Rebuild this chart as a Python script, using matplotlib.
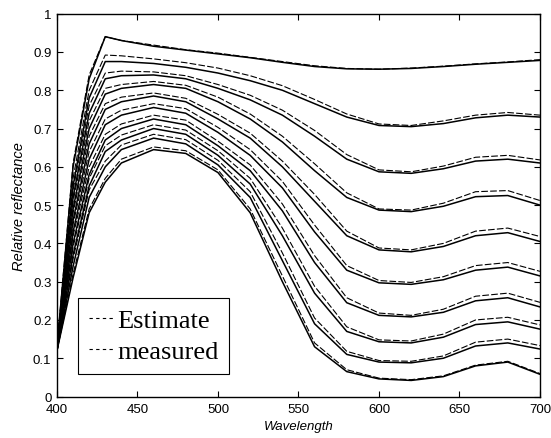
from matplotlib import pyplot as plt
import matplotlib
matplotlib.use('Agg')

# wavelengths (nm)
wl = [400, 410, 420, 430, 440, 460, 480, 500, 520, 540, 560, 580, 600, 620, 640, 660, 680, 700]

# measured reflectance, one list per sample (top to bottom)
meas1 = [0.13, 0.60, 0.83, 0.94, 0.93, 0.915, 0.905, 0.895, 0.885, 0.873, 0.862, 0.856, 0.855, 0.857, 0.862, 0.868, 0.873, 0.878]
meas2 = [0.13, 0.55, 0.78, 0.875, 0.875, 0.87, 0.86, 0.845, 0.825, 0.80, 0.765, 0.73, 0.708, 0.705, 0.713, 0.728, 0.735, 0.73]
meas3 = [0.125, 0.52, 0.74, 0.83, 0.838, 0.84, 0.83, 0.805, 0.775, 0.735, 0.68, 0.62, 0.587, 0.583, 0.595, 0.615, 0.62, 0.61]
meas4 = [0.125, 0.49, 0.70, 0.79, 0.805, 0.815, 0.805, 0.77, 0.725, 0.665, 0.59, 0.52, 0.487, 0.483, 0.497, 0.522, 0.525, 0.50]
meas5 = [0.125, 0.46, 0.66, 0.75, 0.77, 0.785, 0.77, 0.725, 0.675, 0.60, 0.51, 0.42, 0.383, 0.378, 0.392, 0.42, 0.428, 0.405]
meas6 = [0.12, 0.43, 0.62, 0.71, 0.735, 0.755, 0.74, 0.69, 0.63, 0.545, 0.43, 0.33, 0.297, 0.293, 0.305, 0.33, 0.338, 0.315]
meas7 = [0.12, 0.40, 0.58, 0.67, 0.70, 0.725, 0.71, 0.655, 0.59, 0.485, 0.35, 0.245, 0.212, 0.208, 0.22, 0.25, 0.258, 0.234]
meas8 = [0.12, 0.37, 0.55, 0.64, 0.67, 0.70, 0.685, 0.63, 0.555, 0.42, 0.27, 0.17, 0.143, 0.14, 0.155, 0.188, 0.195, 0.176]
meas9 = [0.12, 0.34, 0.52, 0.60, 0.645, 0.675, 0.66, 0.605, 0.52, 0.355, 0.19, 0.11, 0.09, 0.088, 0.10, 0.132, 0.14, 0.124]
meas10 = [0.12, 0.31, 0.48, 0.56, 0.61, 0.645, 0.635, 0.585, 0.48, 0.30, 0.13, 0.065, 0.046, 0.042, 0.052, 0.08, 0.09, 0.058]

# estimated reflectance
est1 = [0.13, 0.61, 0.84, 0.94, 0.93, 0.918, 0.906, 0.897, 0.886, 0.875, 0.864, 0.857, 0.855, 0.858, 0.863, 0.869, 0.874, 0.88]
est2 = [0.13, 0.57, 0.80, 0.892, 0.89, 0.882, 0.872, 0.858, 0.838, 0.812, 0.776, 0.738, 0.712, 0.708, 0.72, 0.735, 0.742, 0.735]
est3 = [0.125, 0.54, 0.76, 0.845, 0.85, 0.848, 0.838, 0.815, 0.787, 0.748, 0.695, 0.632, 0.592, 0.587, 0.602, 0.625, 0.63, 0.618]
est4 = [0.125, 0.51, 0.72, 0.805, 0.815, 0.823, 0.813, 0.782, 0.738, 0.68, 0.608, 0.532, 0.49, 0.487, 0.505, 0.535, 0.538, 0.512]
est5 = [0.125, 0.48, 0.68, 0.765, 0.782, 0.793, 0.779, 0.737, 0.688, 0.615, 0.528, 0.432, 0.388, 0.383, 0.40, 0.432, 0.44, 0.418]
est6 = [0.12, 0.45, 0.64, 0.725, 0.748, 0.765, 0.752, 0.703, 0.645, 0.562, 0.448, 0.342, 0.303, 0.298, 0.313, 0.342, 0.35, 0.327]
est7 = [0.12, 0.42, 0.60, 0.685, 0.712, 0.735, 0.722, 0.667, 0.605, 0.503, 0.368, 0.258, 0.218, 0.212, 0.228, 0.262, 0.27, 0.246]
est8 = [0.12, 0.39, 0.57, 0.655, 0.683, 0.71, 0.696, 0.642, 0.57, 0.44, 0.288, 0.182, 0.148, 0.145, 0.163, 0.20, 0.207, 0.187]
est9 = [0.12, 0.36, 0.54, 0.615, 0.657, 0.685, 0.671, 0.617, 0.535, 0.375, 0.205, 0.118, 0.094, 0.092, 0.106, 0.142, 0.15, 0.133]
est10 = [0.12, 0.32, 0.49, 0.57, 0.62, 0.652, 0.642, 0.592, 0.49, 0.315, 0.14, 0.07, 0.048, 0.044, 0.054, 0.082, 0.092, 0.06]

measured = [meas1, meas2, meas3, meas4, meas5, meas6, meas7, meas8, meas9, meas10]
estimated = [est1, est2, est3, est4, est5, est6, est7, est8, est9, est10]

xticks = [400, 450, 500, 550, 600, 650, 700]
yticks = [0, 0.1, 0.2, 0.3, 0.4, 0.5, 0.6, 0.7, 0.8, 0.9, 1]
yticklabels = ['0', '0.1', '0.2', '0.3', '0.4', '0.5', '0.6', '0.7', '0.8', '0.9', '1']

plt.rcParams['font.family'] = ['Liberation Sans', 'DejaVu Sans']

fig = plt.figure(figsize=(5.51, 4.39), dpi=100)
ax = fig.add_axes([0.1034, 0.0945, 0.8766, 0.872])

for e in estimated:
	ax.plot(wl, e, color='k', linestyle=(0, (6, 2)), linewidth=0.8)
for m in measured:
	ax.plot(wl, m, color='k', linestyle='-', linewidth=1.1)

ax.set(xlim=[400, 700], ylim=[0, 1])
ax.set_xticks(xticks)
ax.set_yticks(yticks)
ax.set_yticklabels(yticklabels)
ax.tick_params(direction='in', top=True, right=True, length=4, labelsize=9.5, width=0.8)
ax.tick_params(axis='x', pad=5)
ax.tick_params(axis='y', pad=4)
for s in ax.spines.values():
	s.set_linewidth(1.0)
ax.set_xlabel('Wavelength', fontsize=9.5, style='italic', labelpad=3)
ax.set_ylabel('Relative reflectance', fontsize=10.5, style='italic', labelpad=5)

# legend (both samples look dashed in the scan)
h1, = ax.plot([], [], color='k', linestyle=(0, (3, 3)), linewidth=0.8)
h2, = ax.plot([], [], color='k', linestyle=(0, (3, 3)), linewidth=0.8)
leg = ax.legend([h1, h2], ['Estimate', 'measured'], loc='lower left',
	bbox_to_anchor=(0.0435, 0.059), borderaxespad=0, fancybox=False,
	edgecolor='k', framealpha=1, handlelength=1.0, handletextpad=0.1,
	prop={'family': 'Liberation Serif', 'size': 19}, labelspacing=0.3,
	borderpad=0.4)
leg.get_frame().set_linewidth(0.8)

fig.savefig('out.png', dpi=100)
